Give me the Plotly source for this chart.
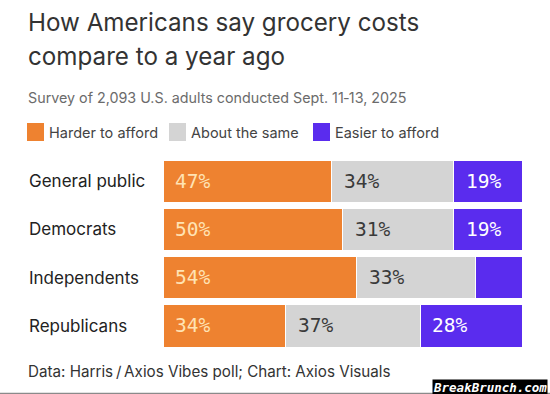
import plotly.graph_objects as go

# ---- data ----
categories = ["General public", "Democrats", "Independents", "Republicans"]
series_names = ["Harder to afford", "About the same", "Easier to afford"]
# values (labels are the rounded values)
harder = [47, 50, 54, 34.2]
same = [34, 31, 33, 37.4]
easier = [19, 19, 13, 28.4]
show_label_easier = [True, True, False, True]

title_line1 = "How Americans say grocery costs"
title_line2 = "compare to a year ago"
subtitle = "Survey of 2,093 U.S. adults conducted Sept. 11\u201113, 2025"
footer = "Data: Harris\u2009/\u2009Axios Vibes poll; Chart: Axios Visuals"
watermark = "BreakBrunch.com"

# ---- style ----
W, H = 550, 394
ML, MR, MT, MB = 163, 28, 157, 44
PW, PH = W - ML - MR, H - MT - MB
colors = ["#EE8230", "#D4D4D4", "#5A2CEE"]
label_colors = ["#FFE3B4", "#3A3A3A", "#FFFFFF"]
SANS = "Inter, 'Open Sans', sans-serif"
MONO = "'DejaVu Sans Mono', 'Liberation Mono', monospace"


def px(x, y):
    """pixel -> paper coords"""
    return (x - ML) / PW, (H - MB - y) / PH


series = [harder, same, easier]
fig = go.Figure()
for name, vals, col in zip(series_names, series, colors):
    fig.add_trace(go.Bar(
        y=categories, x=vals, name=name, orientation="h",
        marker=dict(color=col, line=dict(color="white", width=1)),
        showlegend=False, hoverinfo="skip",
    ))

annotations = []
# data labels
for i, cat in enumerate(categories):
    starts = [0, harder[i], harder[i] + same[i]]
    for k in range(3):
        if k == 2 and not show_label_easier[i]:
            continue
        annotations.append(dict(
            x=starts[k], y=cat, xref="x", yref="y", text=f"{round(series[k][i])}%",
            showarrow=False, xanchor="left", yanchor="middle", xshift=10,
            font=dict(family=MONO, size=19.5, color=label_colors[k]),
        ))
    # category labels (left aligned)
    lx, _ = px(27, 0)
    annotations.append(dict(
        x=lx, y=cat, xref="paper", yref="y", text=cat, showarrow=False,
        xanchor="left", yanchor="middle",
        font=dict(family=SANS, size=17, color="#222222"),
    ))

# titles
for txt, ypix, size, col in [
    (title_line1, 22, 24.2, "#333333"),
    (title_line2, 57, 24.2, "#333333"),
    (subtitle, 97, 14.3, "#6B6B6B"),
    (footer, 371, 15.2, "#333333"),
]:
    x0, y0 = px(26, ypix)
    annotations.append(dict(
        x=x0, y=y0, xref="paper", yref="paper", text=txt, showarrow=False,
        xanchor="left", yanchor="middle", font=dict(family=SANS, size=size, color=col),
    ))

# legend
shapes = []
legend_x = [27, 169, 313]
for name, col, lxp in zip(series_names, colors, legend_x):
    x0, y0 = px(lxp, 123)
    x1, y1 = px(lxp + 17, 141)
    shapes.append(dict(type="rect", xref="paper", yref="paper", x0=x0, x1=x1,
                       y0=y1, y1=y0, fillcolor=col, line=dict(width=0)))
    tx, ty = px(lxp + 20, 132)
    annotations.append(dict(
        x=tx, y=ty, xref="paper", yref="paper", text=name, showarrow=False,
        xanchor="left", yanchor="middle", font=dict(family=SANS, size=14.5, color="#444444"),
    ))

# watermark
wx, wy = px(548, 387)
annotations.append(dict(
    x=wx, y=wy, xref="paper", yref="paper", text=f"<b><i>{watermark}</i></b>",
    showarrow=False, xanchor="right", yanchor="middle", bgcolor="#000000",
    borderpad=0, font=dict(family=MONO, size=12.5, color="#FFFFFF"),
))
lx0, ly0 = px(0, 393.5)
lx1, _ = px(W, 393.5)
shapes.append(dict(type="line", xref="paper", yref="paper", x0=lx0, x1=lx1,
                   y0=ly0, y1=ly0, line=dict(color="#8A8A8A", width=1.5)))

fig.update_layout(
    width=W, height=H, barmode="stack", bargap=6 / 48.25,
    margin=dict(l=ML, r=MR, t=MT, b=MB),
    paper_bgcolor="white", plot_bgcolor="white",
    xaxis=dict(range=[0, 100], visible=False, fixedrange=True),
    yaxis=dict(categoryorder="array", categoryarray=categories[::-1],
               showticklabels=False, showgrid=False, zeroline=False, fixedrange=True),
    annotations=annotations, shapes=shapes,
)

fig.write_html(
    "out.html",
    config={"displayModeBar": False},
    post_script="document.body.style.margin='0';document.body.style.overflow='hidden';",
)
